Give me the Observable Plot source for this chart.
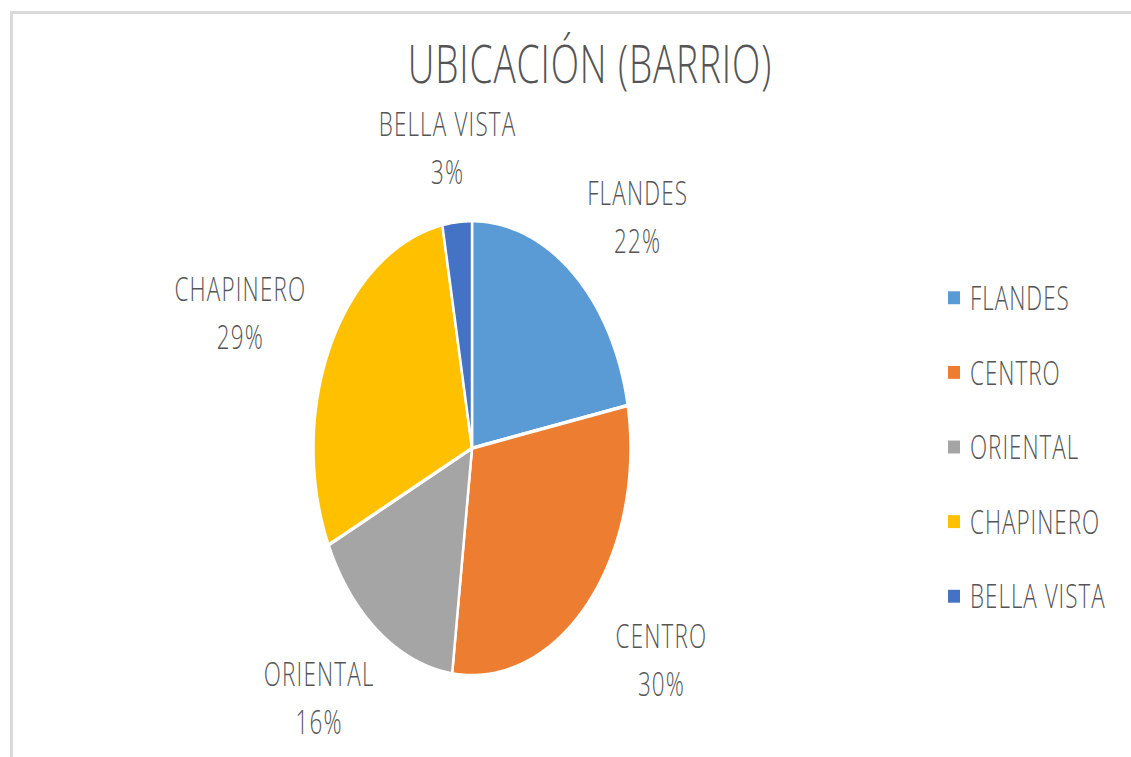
<!DOCTYPE html>
<html><head><meta charset="utf-8">
<script src="https://cdn.jsdelivr.net/npm/d3@7"></script>
<script src="https://cdn.jsdelivr.net/npm/@observablehq/plot@0.6"></script>
<style>
html,body{margin:0;padding:0;background:#fff;overflow:hidden;width:1131px;height:757px;}
#frame{position:absolute;left:10px;top:11px;width:1200px;height:800px;border-top:3px solid #d9d9d9;border-left:3px solid #d9d9d9;box-sizing:border-box;}
#stage{position:absolute;left:0;top:0;width:1131px;height:528px;transform:scaleY(1.435);transform-origin:0 0;}
#chart{position:absolute;left:0;top:0;}
#title{position:absolute;left:0;width:1180px;top:24.9px;text-align:center;font-family:"Open Sans";font-weight:300;font-size:37px;letter-spacing:0.9px;line-height:1;color:#555;}
#legend{position:absolute;left:948px;top:181.75px;}
#legend > div{font-family:"Open Sans" !important;font-weight:300;font-size:22.4px !important;letter-spacing:1px;color:#555;margin:0 !important;}
#legend > div > div{height:51.9px;padding:0 !important;display:flex;align-items:center;}
#legend svg{margin-right:10px !important;}
#chart text{font-weight:300;letter-spacing:1.2px;}
</style></head><body>
<div id="frame"></div>
<div id="stage"><div id="chart"></div><div id="title"></div><div id="legend"></div></div>
<script>
const titleText = "UBICACIÓN (BARRIO)";
const categories = ["FLANDES", "CENTRO", "ORIENTAL", "CHAPINERO", "BELLA VISTA"];
const percentages = [22, 30, 16, 29, 3];
const colors = ["#5B9BD5", "#ED7D31", "#A5A5A5", "#FFC000", "#4472C4"];

document.getElementById("title").textContent = titleText;

const arcs = d3.pie().sort(null).value(d => d)(percentages);
const step = Math.PI / 360;
const slices = [];
const labels = [];
arcs.forEach((a, i) => {
  const name = categories[i];
  slices.push({name, x: 0, y: 0});
  const n = Math.max(2, Math.ceil((a.endAngle - a.startAngle) / step));
  for (let k = 0; k <= n; k++) {
    const t = a.startAngle + (a.endAngle - a.startAngle) * k / n;
    slices.push({name, x: Math.sin(t), y: Math.cos(t)});
  }
  slices.push({name, x: 0, y: 0});
  const mid = (a.startAngle + a.endAngle) / 2;
  labels.push({name, text: name + "\n" + percentages[i] + "%", x: 1.64 * Math.sin(mid), y: 1.34 * Math.cos(mid)});
});

const chart = Plot.plot({
  width: 1131,
  height: 528,
  margin: 0,
  x: {domain: [-1, 1], range: [313, 630], axis: null},
  y: {domain: [-1, 1], range: [470.3, 153.3], axis: null},
  color: {domain: categories, range: colors},
  style: {background: "transparent", overflow: "visible"},
  marks: [
    Plot.line(slices, {x: "x", y: "y", z: "name", fill: "name", stroke: "white", strokeWidth: 2.5, curve: "linear"}),
    Plot.text(labels, {x: "x", y: "y", text: "text", fill: "#555", fontSize: 22.4, fontFamily: "Open Sans", lineHeight: 1.49})
  ]
});
document.getElementById("chart").appendChild(chart);
const leg = chart.legend("color", {columns: 1, swatchWidth: 12, swatchHeight: 9});
document.getElementById("legend").appendChild(leg);
</script>
</body></html>
